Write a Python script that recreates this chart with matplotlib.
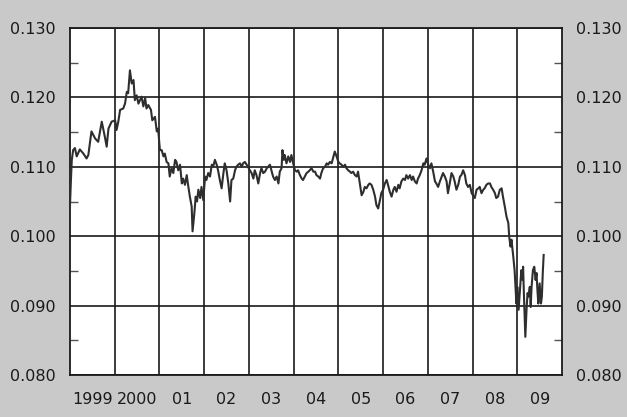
import matplotlib
matplotlib.use("Agg")
import matplotlib.pyplot as plt
from matplotlib.ticker import FixedLocator, NullFormatter, FixedFormatter

# Daily rate, sampled as (decimal year, value)
years = [
    1999.00, 1999.02, 1999.04, 1999.07, 1999.11, 1999.15, 1999.22, 1999.30, 1999.37, 1999.41,
    1999.48, 1999.56, 1999.63, 1999.71, 1999.78, 1999.82, 1999.86, 1999.93, 2000.01, 2000.04,
    2000.08, 2000.12, 2000.19, 2000.23, 2000.27, 2000.30, 2000.34, 2000.38, 2000.42, 2000.45,
    2000.49, 2000.53, 2000.60, 2000.64, 2000.68, 2000.71, 2000.75, 2000.81, 2000.84, 2000.90,
    2000.94, 2000.97, 2001.01, 2001.05, 2001.09, 2001.12, 2001.16, 2001.20, 2001.23, 2001.27,
    2001.31, 2001.35, 2001.38, 2001.42, 2001.46, 2001.50, 2001.53, 2001.57, 2001.61, 2001.64,
    2001.68, 2001.72, 2001.74, 2001.78, 2001.81, 2001.84, 2001.87, 2001.91, 2001.94, 2001.98,
    2002.02, 2002.05, 2002.09, 2002.13, 2002.17, 2002.20,
    2002.24, 2002.28, 2002.31, 2002.35, 2002.39, 2002.43, 2002.46, 2002.50, 2002.54, 2002.58,
    2002.61, 2002.65, 2002.69, 2002.72, 2002.76, 2002.80, 2002.84, 2002.87, 2002.91, 2002.95,
    2002.98, 2003.02, 2003.06, 2003.10, 2003.13, 2003.17, 2003.21, 2003.25, 2003.28, 2003.32,
    2003.36, 2003.40, 2003.43, 2003.47, 2003.51, 2003.54, 2003.58, 2003.62, 2003.66, 2003.69,
    2003.73, 2003.75, 2003.78, 2003.80, 2003.84, 2003.88, 2003.92, 2003.95, 2003.99, 2004.03,
    2004.07, 2004.10, 2004.14, 2004.18, 2004.21, 2004.25, 2004.29, 2004.33, 2004.36, 2004.40,
    2004.44, 2004.48, 2004.51, 2004.55, 2004.59, 2004.62, 2004.66, 2004.70, 2004.74, 2004.77,
    2004.81, 2004.85, 2004.89, 2004.92, 2004.96, 2005.00, 2005.03, 2005.07, 2005.11, 2005.15,
    2005.18, 2005.22, 2005.26, 2005.29, 2005.33, 2005.37, 2005.41, 2005.44, 2005.48, 2005.52,
    2005.56, 2005.59, 2005.63, 2005.67,
    2005.70, 2005.74, 2005.78, 2005.82, 2005.85, 2005.89, 2005.93, 2005.96, 2006.00, 2006.04,
    2006.08, 2006.11, 2006.15, 2006.19, 2006.23, 2006.26, 2006.30, 2006.34, 2006.37, 2006.41,
    2006.45, 2006.49, 2006.52, 2006.56, 2006.60, 2006.64, 2006.67, 2006.71, 2006.75, 2006.78,
    2006.82, 2006.86, 2006.90, 2006.93, 2006.97, 2007.01, 2007.05, 2007.08, 2007.12, 2007.16,
    2007.19, 2007.23, 2007.27, 2007.31, 2007.34, 2007.38, 2007.42, 2007.45, 2007.49, 2007.53,
    2007.57, 2007.60, 2007.64, 2007.68, 2007.72, 2007.75, 2007.79, 2007.83, 2007.86, 2007.90,
    2007.94, 2007.98, 2008.01, 2008.05, 2008.09, 2008.13, 2008.16, 2008.20, 2008.24, 2008.27,
    2008.31, 2008.35, 2008.39, 2008.42, 2008.46, 2008.50, 2008.53, 2008.57, 2008.61, 2008.65,
    2008.68, 2008.72, 2008.76, 2008.80, 2008.82, 2008.85, 2008.87, 2008.91, 2008.94, 2008.98,
    2009.00, 2009.03, 2009.06, 2009.09, 2009.12, 2009.13, 2009.15, 2009.18, 2009.21, 2009.23,
    2009.25, 2009.28, 2009.30, 2009.32, 2009.35, 2009.38, 2009.41, 2009.43, 2009.45, 2009.47,
    2009.50, 2009.53, 2009.55, 2009.57, 2009.59,
]
rate = [
    0.1045, 0.1080, 0.1110, 0.1124, 0.1127, 0.1115, 0.1125, 0.1119, 0.1112, 0.1117,
    0.1151, 0.1141, 0.1136, 0.1165, 0.1143, 0.1129, 0.1155, 0.1165, 0.1167, 0.1153,
    0.1165, 0.1182, 0.1184, 0.1191, 0.1208, 0.1206, 0.1239, 0.1220, 0.1225, 0.1196,
    0.1203, 0.1191, 0.1201, 0.1187, 0.1199, 0.1184, 0.1189, 0.1182, 0.1167, 0.1172,
    0.1151, 0.1155, 0.1124, 0.1124, 0.1115, 0.1119, 0.1107, 0.1105, 0.1086, 0.1098,
    0.1091, 0.1110, 0.1107, 0.1095, 0.1103, 0.1076, 0.1083, 0.1074, 0.1088, 0.1074,
    0.1057, 0.1043, 0.1007, 0.1033, 0.1057, 0.1050, 0.1067, 0.1055, 0.1071, 0.1052,
    0.1086, 0.1081, 0.1091, 0.1086, 0.1103, 0.1100,
    0.1110, 0.1103, 0.1095, 0.1081, 0.1069, 0.1091, 0.1105, 0.1095, 0.1076, 0.1050,
    0.1081, 0.1083, 0.1095, 0.1100, 0.1103, 0.1105, 0.1100, 0.1105, 0.1107, 0.1103,
    0.1100, 0.1095, 0.1091, 0.1083, 0.1095, 0.1088, 0.1076, 0.1091, 0.1098, 0.1091,
    0.1093, 0.1098, 0.1100, 0.1103, 0.1093, 0.1086, 0.1081, 0.1086, 0.1076, 0.1093,
    0.1098, 0.1124, 0.1110, 0.1117, 0.1105, 0.1115, 0.1107, 0.1117, 0.1105, 0.1095,
    0.1093, 0.1095, 0.1088, 0.1083, 0.1081, 0.1086, 0.1091, 0.1093, 0.1095, 0.1098,
    0.1093, 0.1093, 0.1088, 0.1086, 0.1083, 0.1091, 0.1098, 0.1100, 0.1105, 0.1103,
    0.1107, 0.1105, 0.1115, 0.1122, 0.1115, 0.1107, 0.1105, 0.1103, 0.1100, 0.1103,
    0.1098, 0.1095, 0.1093, 0.1091, 0.1093, 0.1088, 0.1086, 0.1093, 0.1076, 0.1059,
    0.1064, 0.1071, 0.1069, 0.1074,
    0.1076, 0.1074, 0.1067, 0.1057, 0.1045, 0.1040, 0.1052, 0.1062, 0.1067, 0.1076,
    0.1081, 0.1074, 0.1064, 0.1057, 0.1067, 0.1071, 0.1064, 0.1074, 0.1069, 0.1079,
    0.1083, 0.1081, 0.1088, 0.1083, 0.1088, 0.1081, 0.1086, 0.1079, 0.1076, 0.1083,
    0.1088, 0.1095, 0.1105, 0.1103, 0.1112, 0.1103, 0.1098, 0.1105, 0.1093, 0.1079,
    0.1076, 0.1071, 0.1079, 0.1086, 0.1091, 0.1086, 0.1079, 0.1062, 0.1076, 0.1091,
    0.1086, 0.1079, 0.1067, 0.1074, 0.1086, 0.1088, 0.1095, 0.1088, 0.1076, 0.1071,
    0.1074, 0.1062, 0.1059, 0.1055, 0.1067, 0.1069, 0.1071, 0.1062, 0.1067, 0.1069,
    0.1074, 0.1076, 0.1076, 0.1071, 0.1067, 0.1062, 0.1055, 0.1057, 0.1067, 0.1069,
    0.1057, 0.1043, 0.1028, 0.1019, 0.0999, 0.0985, 0.0995, 0.0971, 0.0951, 0.0903,
    0.0927, 0.0894, 0.0923, 0.0951, 0.0937, 0.0956, 0.0913, 0.0855, 0.0898, 0.0918,
    0.0913, 0.0927, 0.0898, 0.0927, 0.0951, 0.0956, 0.0937, 0.0947, 0.0923, 0.0903,
    0.0932, 0.0903, 0.0913, 0.0947, 0.0973,
]

year_lines = list(range(2000, 2010))
year_label_pos = [y + 0.5 for y in range(1999, 2010)]
year_labels = ["1999", "2000", "01", "02", "03", "04", "05", "06", "07", "08", "09"]
y_major = [0.080, 0.090, 0.100, 0.110, 0.120, 0.130]
y_minor = [0.085, 0.095, 0.105, 0.115, 0.125]

BG = "#c9c9c9"
INK = "#1a1a1a"

fig = plt.figure(figsize=(6.27, 4.17), dpi=100, facecolor=BG)
ax = fig.add_axes([70 / 627, 42 / 417, 492 / 627, 347 / 417])
ax.set_facecolor("white")

ax.plot(years, rate, color="#2e2e2e", lw=1.5, zorder=3)

ax.set_xlim(1999, 2010)
ax.set_ylim(0.080, 0.130)

# vertical lines at year boundaries, labels centred in each year
ax.xaxis.set_major_locator(FixedLocator(year_lines))
ax.xaxis.set_major_formatter(NullFormatter())
ax.xaxis.set_minor_locator(FixedLocator(year_label_pos))
ax.xaxis.set_minor_formatter(FixedFormatter(year_labels))
ax.tick_params(axis="x", which="both", length=0, labelsize=11.5,
               labelcolor=INK, pad=12)

ax.yaxis.set_major_locator(FixedLocator(y_major))
ax.yaxis.set_major_formatter(FixedFormatter([f"{v:.3f}" for v in y_major]))
ax.yaxis.set_minor_locator(FixedLocator(y_minor))
ax.tick_params(axis="y", which="major", length=0, labelsize=11.5,
               labelcolor=INK, pad=10, left=True, right=True,
               labelleft=True, labelright=True)
ax.tick_params(axis="y", which="minor", direction="in", length=6,
               width=1.0, color="#555555", left=True, right=True)

ax.grid(True, which="major", axis="both", color=INK, lw=1.2)
ax.set_axisbelow(True)
for s in ax.spines.values():
    s.set_color(INK)
    s.set_linewidth(1.3)

fig.savefig("out.png", dpi=100, facecolor=BG)
